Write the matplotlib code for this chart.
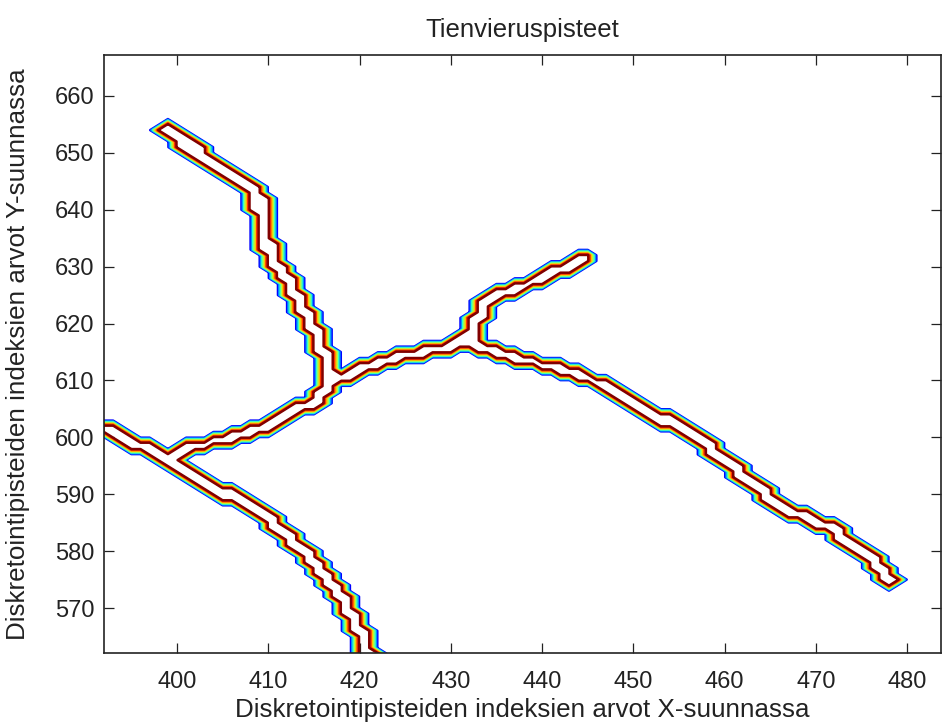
import numpy as np
import matplotlib
matplotlib.use("Agg")
import matplotlib.pyplot as plt
from matplotlib import font_manager

# ---- data: road centre-lines (grid index units) ----
road_a_x = [398.6, 402.5, 406.9, 408.8, 409.4, 410.2, 412.0, 413.5, 416.0, 416.6]
road_a_y = [654.0, 650.0, 645.2, 643.0, 637.0, 632.4, 627.6, 623.6, 615.3, 609.6]

main_x = [392.0, 398.7, 402.0, 409.3, 414.8, 416.7, 422.5, 428.0, 431.6,
          434.6, 442.0, 446.5, 457.3, 466.0, 472.3]
main_y = [601.5, 596.6, 598.3, 601.8, 606.0, 609.5, 613.6, 615.3, 616.6,
          615.3, 611.8, 609.5, 599.5, 588.0, 583.7]

tail_x = [472.3, 472.9, 474.0, 476.6, 478.3]
tail_y = [583.7, 582.5, 580.7, 578.0, 574.9]

branch_d_x = [431.6, 433.2, 433.5, 435.0, 440.8, 444.4]
branch_d_y = [616.6, 621.1, 623.6, 624.7, 628.5, 631.2]

road_e_x = [398.7, 403.8, 408.5, 411.5, 414.8, 418.1, 420.6, 421.2]
road_e_y = [596.4, 591.3, 587.7, 583.7, 578.4, 571.4, 563.8, 561.0]

roads = [(road_a_x, road_a_y), (main_x, main_y), (tail_x, tail_y),
         (branch_d_x, branch_d_y), (road_e_x, road_e_y)]

x_ticks = [400, 410, 420, 430, 440, 450, 460, 470, 480]
y_ticks = [570, 580, 590, 600, 610, 620, 630, 640, 650, 660]
x_lim = (392, 483.7)
y_lim = (562.1, 667.2)

title = "Tienvieruspisteet"
x_label = "Diskretointipisteiden indeksien arvot X-suunnassa"
y_label = "Diskretointipisteiden indeksien arvot Y-suunnassa"

# ---- build a binary road mask on the integer index grid ----
gx = np.arange(390, 487)
gy = np.arange(558, 670)
X, Y = np.meshgrid(gx, gy)
dist = np.full(X.shape, np.inf)
for rx, ry in roads:
    for i in range(len(rx) - 1):
        x0, y0, x1, y1 = rx[i], ry[i], rx[i + 1], ry[i + 1]
        dx, dy = x1 - x0, y1 - y0
        L2 = dx * dx + dy * dy
        t = np.clip(((X - x0) * dx + (Y - y0) * dy) / L2, 0, 1)
        d = np.hypot(X - (x0 + t * dx), Y - (y0 + t * dy))
        dist = np.minimum(dist, d)
Z = (dist <= 1.1).astype(float)

# ---- fonts ----
names = {f.name for f in font_manager.fontManager.ttflist}
fam = ["Liberation Sans Narrow", "Liberation Sans", "DejaVu Sans"]
fam = [f for f in fam if f in names] + ["DejaVu Sans"]
plt.rcParams["font.family"] = fam

fig = plt.figure(figsize=(9.43, 7.24), dpi=100)
ax = fig.add_axes([104 / 943, (724 - 653) / 724, 837 / 943, 598 / 724])

levels = np.linspace(0.06, 0.94, 7)
colors = plt.cm.jet(np.linspace(0.12, 1.0, 7))
ax.contour(X, Y, Z, levels=levels, colors=colors, linewidths=1.8)

ax.set_xlim(*x_lim)
ax.set_ylim(*y_lim)
ax.set_xticks(x_ticks)
ax.set_yticks(y_ticks)
ax.tick_params(direction="in", length=7, width=0.9, top=True, right=True,
               labelsize=17, colors="#222222")
ax.tick_params(axis="x", pad=13)
ax.tick_params(axis="y", pad=7)
for s in ax.spines.values():
    s.set_linewidth(1.2)
    s.set_color("#222222")

ax.set_title(title, fontsize=18.5, pad=13, color="#222222")
ax.set_xlabel(x_label, fontsize=18.7, color="#222222")
ax.set_ylabel(y_label, fontsize=18.7, color="#222222")
ax.xaxis.set_label_coords(0.5, -0.076)
ax.yaxis.set_label_coords(-0.088, 0.5)

fig.savefig("out.png", dpi=100)
